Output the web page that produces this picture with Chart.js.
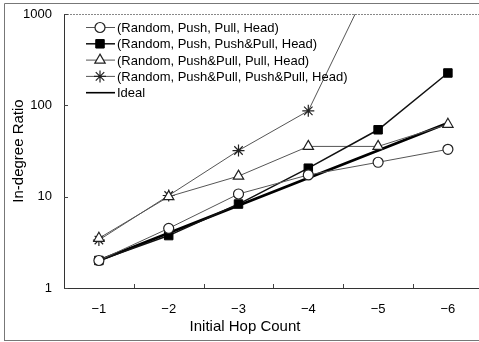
<!DOCTYPE html>
<html>
<head>
<meta charset="utf-8">
<script src="https://cdn.jsdelivr.net/npm/chart.js@4.4.1/dist/chart.umd.min.js"></script>
<style>
html, body { margin: 0; padding: 0; background: #fff; overflow: hidden; }
#wrap { width: 479px; height: 342px; overflow: hidden; }
</style>
</head>
<body>
<div id="wrap"><canvas id="chart" width="490" height="342"></canvas></div>
<script>
// Initial hop count categories
const hopLabels = ['\u22121', '\u22122', '\u22123', '\u22124', '\u22125', '\u22126'];

const seriesNames = [
    '(Random, Push, Pull, Head)',
    '(Random, Push, Push&Pull, Head)',
    '(Random, Push&Pull, Pull, Head)',
    '(Random, Push&Pull, Push&Pull, Head)',
    'Ideal'
];

// In-degree ratio values
const pushPull = [2.0, 4.5, 10.7, 17.3, 23.8, 33];
const pushPushPull = [2.0, 3.75, 8.3, 20.5, 54, 226];
const pushPullPull = [3.5, 10.0, 16.8, 35.5, 35.5, 62];
const pushPullBoth = [3.35, 10.3, 32, 87, 3300, null];
const ideal = [2, 4, 8, 16, 32, 64];

const yTicks = [1, 10, 100, 1000];

const FONT = '"Liberation Sans", Arial, sans-serif';

// Draw the frame lines, small inner tick marks and the legend box
const decorPlugin = {
    id: 'decor',
    beforeDatasetsDraw(chart) {
        const ctx = chart.ctx;
        const area = chart.chartArea;
        const x = chart.scales.x;
        const y = chart.scales.y;
        ctx.save();
        // outer picture frame
        ctx.strokeStyle = '#777';
        ctx.lineWidth = 1;
        ctx.beginPath();
        ctx.moveTo(4.5, 341);
        ctx.lineTo(4.5, 3.5);
        ctx.lineTo(490, 3.5);
        ctx.moveTo(4.5, 340.5);
        ctx.lineTo(490, 340.5);
        ctx.stroke();
        // plot borders
        ctx.strokeStyle = '#333';
        ctx.beginPath();
        ctx.moveTo(area.left + 0.5, area.top);
        ctx.lineTo(area.left + 0.5, area.bottom + 0.5);
        ctx.lineTo(area.right, area.bottom + 0.5);
        ctx.stroke();
        ctx.strokeStyle = '#888';
        ctx.setLineDash([2, 1]);
        ctx.beginPath();
        ctx.moveTo(area.left, area.top + 0.5);
        ctx.lineTo(area.right, area.top + 0.5);
        ctx.stroke();
        ctx.setLineDash([]);
        // tick marks pointing inward
        ctx.strokeStyle = '#444';
        ctx.beginPath();
        yTicks.forEach(v => {
            const py = Math.round(y.getPixelForValue(v)) + 0.5;
            ctx.moveTo(area.left, py);
            ctx.lineTo(area.left + 4, py);
        });
        for (let i = 0; i < hopLabels.length - 1; i++) {
            const px = Math.round((x.getPixelForValue(i) + x.getPixelForValue(i + 1)) / 2) + 0.5;
            ctx.moveTo(px, area.bottom);
            ctx.lineTo(px, area.bottom - 4);
        }
        ctx.stroke();
        ctx.restore();
    },
    afterDraw(chart) {
        const ctx = chart.ctx;
        ctx.save();
        chart.data.datasets.forEach((ds, i) => {
            const cy = 27.5 + i * 16.3;
            ctx.strokeStyle = ds.borderColor;
            ctx.lineWidth = Math.min(ds.borderWidth, 1.6);
            ctx.beginPath();
            ctx.moveTo(86, cy);
            ctx.lineTo(115, cy);
            ctx.stroke();
            if (ds.pointRadius > 0) {
                ctx.fillStyle = ds.pointBackgroundColor;
                ctx.strokeStyle = ds.pointBorderColor;
                ctx.lineWidth = ds.pointBorderWidth;
                Chart.helpers.drawPoint(ctx, {
                    pointStyle: ds.pointStyle,
                    radius: ds.pointRadius,
                    borderWidth: ds.pointBorderWidth,
                    rotation: 0
                }, 100, cy);
            }
            ctx.fillStyle = '#000';
            ctx.font = '13px ' + FONT;
            ctx.textBaseline = 'middle';
            ctx.fillText(seriesNames[i], 117, cy + 1);
        });
        ctx.restore();
    }
};

function lineSet(label, data, opts) {
    return Object.assign({
        label: label,
        data: data,
        fill: false,
        tension: 0,
        spanGaps: false
    }, opts);
}

new Chart(document.getElementById('chart'), {
    type: 'line',
    data: {
        labels: hopLabels,
        datasets: [
            lineSet(seriesNames[0], pushPull, {
                borderColor: '#555', borderWidth: 1,
                pointStyle: 'circle', pointRadius: 5,
                pointBackgroundColor: '#fff', pointBorderColor: '#222', pointBorderWidth: 1.2
            }),
            lineSet(seriesNames[1], pushPushPull, {
                borderColor: '#111', borderWidth: 1.5,
                pointStyle: 'rect', pointRadius: 6,
                pointBackgroundColor: '#000', pointBorderColor: '#000', pointBorderWidth: 1
            }),
            lineSet(seriesNames[2], pushPullPull, {
                borderColor: '#555', borderWidth: 1,
                pointStyle: 'triangle', pointRadius: 6,
                pointBackgroundColor: '#fff', pointBorderColor: '#222', pointBorderWidth: 1.2
            }),
            lineSet(seriesNames[3], pushPullBoth, {
                borderColor: '#555', borderWidth: 1,
                pointStyle: 'star', pointRadius: 6,
                pointBackgroundColor: '#fff', pointBorderColor: '#222', pointBorderWidth: 1.2
            }),
            lineSet(seriesNames[4], ideal, {
                borderColor: '#000', borderWidth: 2.8,
                pointRadius: 0, pointBorderWidth: 0
            })
        ]
    },
    options: {
        responsive: false,
        animation: false,
        layout: { padding: { top: 14, left: 0, right: 0, bottom: 0 } },
        plugins: {
            legend: { display: false },
            tooltip: { enabled: false },
            title: {
                display: true,
                position: 'bottom',
                text: 'Initial Hop Count',
                color: '#000',
                font: { family: FONT, size: 15, weight: 'normal' },
                padding: { top: 4, bottom: 6 }
            }
        },
        scales: {
            x: {
                type: 'category',
                offset: true,
                grid: { display: false },
                border: { display: false },
                ticks: {
                    color: '#000',
                    font: { family: FONT, size: 13 },
                    padding: 6,
                    maxRotation: 0
                },
                afterFit(scale) { scale.height = 26; }
            },
            y: {
                type: 'logarithmic',
                min: 1,
                max: 1000,
                grid: { display: false },
                border: { display: false },
                afterBuildTicks(scale) {
                    scale.ticks = yTicks.map(v => ({ value: v }));
                },
                ticks: {
                    color: '#000',
                    font: { family: FONT, size: 13 },
                    padding: 4,
                    callback: v => String(v)
                },
                title: {
                    display: true,
                    text: 'In-degree Ratio',
                    color: '#000',
                    font: { family: FONT, size: 15 },
                    padding: { top: 10, bottom: 0 }
                },
                afterFit(scale) { scale.width = 64; }
            }
        }
    },
    plugins: [decorPlugin]
});
</script>
</body>
</html>
